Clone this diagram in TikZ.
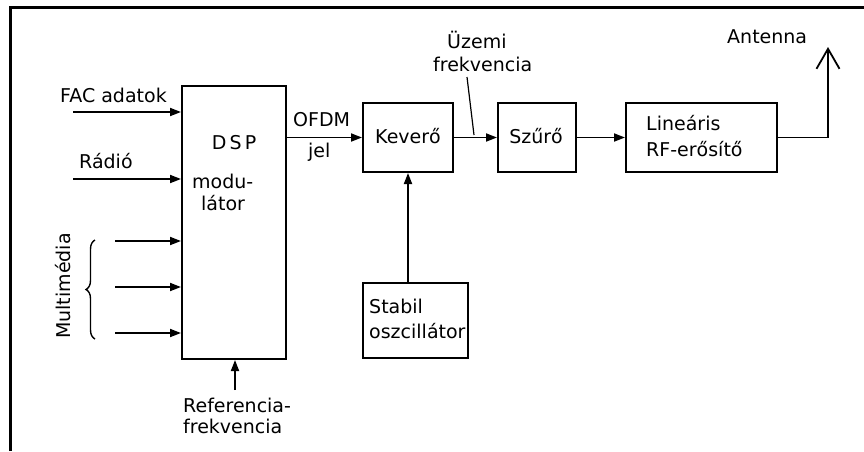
\documentclass[tikz,border=0pt]{standalone}
\usepackage{fontspec}
\setmainfont{DejaVu Sans}
\usetikzlibrary{arrows.meta,decorations.pathreplacing}
\begin{document}
\begin{tikzpicture}[x=1pt,y=-1pt,
  box/.style={draw, line width=2pt, inner sep=0pt},
  conn/.style={line width=1.8pt},
  arr/.style={line width=1.8pt, -{Triangle[length=11pt,width=8pt]}},
  lbl/.style={inner sep=0pt, anchor=base west, font=\fontsize{19}{20}\selectfont},
  clbl/.style={inner sep=0pt, anchor=base, font=\fontsize{19}{20}\selectfont}]
\useasboundingbox (0,0) rectangle (864,451);
% frame
\draw[line width=3pt] (10,451) -- (10,7) -- (864,7);
% boxes
\node[box, minimum width=104pt, minimum height=273pt] (dsp) at (234,222.5) {};
\node[box, minimum width=90pt, minimum height=69pt] (kev) at (408,137.5) {};
\node[box, minimum width=78pt, minimum height=69pt] (szu) at (537,137.5) {};
\node[box, minimum width=151pt, minimum height=69pt] (lin) at (701.5,137.5) {};
\node[box, minimum width=105pt, minimum height=75pt] (stab) at (415.5,320.5) {};
% box texts
\node[clbl] (tdsp) at (234,149) {D\,S\,P};
\node[lbl] (tmod) at (192,188) {modu-};
\node[lbl] (tlat) at (201,210) {látor};
\node[clbl] (tkev) at (408,143) {Keverő};
\node[clbl] (tszu) at (536,143) {Szűrő};
\node[lbl] (tlin1) at (646,130) {Lineáris};
\node[lbl] (tlin2) at (646,156) {RF-erősítő};
\node[lbl] (tstab1) at (369,313) {Stabil};
\node[lbl] (tstab2) at (369,338) {oszcillátor};
% inputs
\coordinate (fac) at (73,112);
\coordinate (rad) at (73,179);
\coordinate (m1) at (115,241);
\coordinate (m2) at (115,287);
\coordinate (m3) at (115,333);
\coordinate (ref) at (235,390);
\draw[arr] (fac) -- (fac -| dsp.west);
\draw[arr] (rad) -- (rad -| dsp.west);
\draw[arr] (m1) -- (m1 -| dsp.west);
\draw[arr] (m2) -- (m2 -| dsp.west);
\draw[arr] (m3) -- (m3 -| dsp.west);
\draw[arr] (ref) -- (ref |- dsp.south);
\node[lbl] (tfac) at (60,102) {FAC adatok};
\node[lbl] (trad) at (79,168) {Rádió};
\node[lbl] (tref1) at (183,412) {Referencia-};
\node[lbl] (tref2) at (183,433) {frekvencia};
% brace
\draw[line width=1.4pt, decorate, decoration={brace, amplitude=9pt}] (95,339) -- (95,240);
\node[inner sep=0pt, rotate=90, font=\fontsize{19}{20}\selectfont] (tmul) at (63,286) {Multimédia};
% chain
\draw[arr] (dsp.east |- kev.west) -- (kev.west);
\draw[arr] (kev.east) -- (szu.west);
\draw[arr] (szu.east) -- (lin.west);
\draw[arr] (kev.south |- stab.north) -- (kev.south);
\node[lbl] (tofdm) at (293,126) {OFDM};
\node[lbl] (tjel) at (308,157) {jel};
% operating frequency
\node[lbl] (tuz1) at (447,48) {Üzemi};
\node[lbl] (tuz2) at (433,71) {frekvencia};
\coordinate (lead1) at (467,77);
\coordinate (lead2) at (474,135);
\draw[line width=1.2pt] (lead1) -- (lead2);
% antenna
\coordinate (ant) at (828,47);
\draw[conn, -{Straight Barb[length=20pt,width=23pt,line width=1.8pt]}] (lin.east) -| (ant);
\node[lbl] (tant) at (727,43) {Antenna};
\end{tikzpicture}
\end{document}
